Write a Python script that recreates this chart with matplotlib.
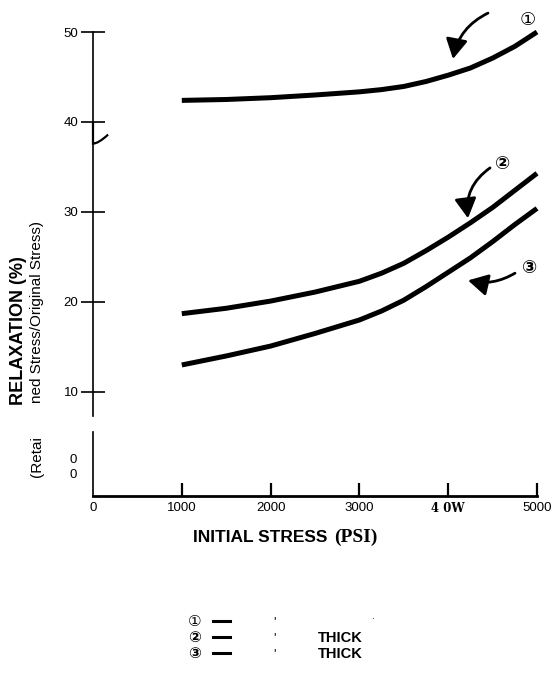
import matplotlib
matplotlib.use("Agg")
import matplotlib.pyplot as plt
from matplotlib.path import Path
from matplotlib.patches import PathPatch
from matplotlib.lines import Line2D

plt.rcParams["font.family"] = ["Liberation Sans", "DejaVu Sans"]

# data
stress = [1000, 1500, 2000, 2500, 3000, 3250, 3500, 3750, 4000, 4250, 4500, 4750, 5000]
curve1 = [42.4, 42.5, 42.7, 43.0, 43.35, 43.6, 43.95, 44.5, 45.2, 46.0, 47.1, 48.4, 50.0]
curve2 = [18.7, 19.3, 20.1, 21.1, 22.3, 23.2, 24.3, 25.7, 27.2, 28.8, 30.5, 32.4, 34.3]
curve3 = [13.0, 14.0, 15.1, 16.5, 18.0, 19.0, 20.2, 21.7, 23.3, 24.9, 26.7, 28.6, 30.4]
xticks = [0, 1000, 2000, 3000, 4000, 5000]
xticklabels = ["0", "1000", "2000", "3000", "4 0W", "5000"]
yticks = [10, 20, 30, 40, 50]

W, H = 555, 674
fig = plt.figure(figsize=(W / 100, H / 100), dpi=100)
fig.patch.set_facecolor("white")

# axes placed so 0..5000 psi -> px 93..537, -1.56..50 % -> px 496..32
ax = fig.add_axes([93 / W, (H - 496) / H, 444 / W, 464 / H])
ax.set_xlim(0, 5000)
ax.set_ylim(-1.56, 50)
for s in ["top", "right", "left"]:
    ax.spines[s].set_visible(False)
ax.spines["bottom"].set_linewidth(2)

for ys in (curve1, curve2, curve3):
    ax.plot(stress, ys, color="black", lw=3.6, solid_capstyle="butt",
            solid_joinstyle="round", clip_on=False)

# broken y axis line + hook at 40
ax.plot([0, 0], [50, 7.3], color="black", lw=1.2, clip_on=False)
ax.plot([0, 0], [5.6, -1.56], color="black", lw=1.2, clip_on=False)
hook = Path([(0, 40), (0, 37.6), (60, 37.6), (170, 38.6)],
            [Path.MOVETO, Path.LINETO, Path.CURVE3, Path.CURVE3])
ax.add_patch(PathPatch(hook, fill=False, lw=1.6, color="black", clip_on=False))

ax.set_yticks(yticks)
ax.set_yticklabels([str(v) for v in yticks], fontsize=9.5)
ax.tick_params(axis="y", direction="inout", length=17, width=1.2, pad=2)
ax.set_xticks(xticks)
ax.set_xticklabels(xticklabels, fontsize=9.5)
ax.get_xticklabels()[4].set_family("DejaVu Serif")
ax.get_xticklabels()[4].set_fontsize(8.5)
ax.get_xticklabels()[4].set_weight("bold")
ax.tick_params(axis="x", direction="in", length=9.5, width=1.6, pad=4)
ax.xaxis.get_major_ticks()[0].tick1line.set_visible(False)

# odd "0 0" labels at the bottom of the y axis
ax.text(-225, 2.4, "0", fontsize=9.5, ha="center", va="center", clip_on=False)
ax.text(-225, 0.8, "0", fontsize=9.5, ha="center", va="center", clip_on=False)

# curve callouts
arrow_kw = dict(arrowstyle="-|>,head_length=1.0,head_width=0.55", color="black",
                lw=2, mutation_scale=12, shrinkA=0, shrinkB=0)
ax.annotate("", xy=(4054, 47.0), xytext=(4448, 52.1),
            arrowprops=dict(connectionstyle="arc3,rad=0.25", **arrow_kw), annotation_clip=False)
ax.annotate("", xy=(4223, 29.3), xytext=(4471, 34.9),
            arrowprops=dict(connectionstyle="arc3,rad=0.3", **arrow_kw), annotation_clip=False)
ax.annotate("", xy=(4223, 22.4), xytext=(4752, 23.2),
            arrowprops=dict(connectionstyle="arc3,rad=-0.2", **arrow_kw), annotation_clip=False)
circ = dict(fontsize=13, ha="center", va="center", family="DejaVu Sans", clip_on=False)
ax.text(4899, 51.3, "\u2460", **circ)
ax.text(4617, 35.3, "\u2461", fontweight="bold", **circ)
ax.text(4921, 23.8, "\u2462", fontweight="bold", **circ)

# axis titles
fig.text(193 / W, 1 - 537 / H, "INITIAL STRESS", fontsize=12.5, fontweight="bold",
         ha="left", va="center")
fig.text(334 / W, 1 - 537 / H, "(PSI)", fontsize=14, fontweight="bold",
         family="Liberation Serif", ha="left", va="center")
fig.text(19 / W, 1 - 331 / H, "RELAXATION (%)", fontsize=13, fontweight="bold",
         rotation=90, ha="center", va="center")
fig.text(37 / W, 1 - 312 / H, "ned Stress/Original Stress)", fontsize=11,
         rotation=90, ha="center", va="center")
fig.text(37 / W, 1 - 457 / H, "(Retai", fontsize=11,
         rotation=90, ha="center", va="center")

# key at the bottom
rows = [622, 638, 654]
nums = ["\u2460", "\u2461", "\u2462"]
for i, (py, n) in enumerate(zip(rows, nums)):
    fig.text(195 / W, 1 - py / H, n, fontsize=11, ha="center", va="center",
             family="DejaVu Sans", fontweight="normal" if i == 0 else "bold")
    yf = 1 - (py - 1) / H
    fig.add_artist(Line2D([213 / W, 230 / W], [yf, yf], color="black", lw=2.2))
    fig.text(275 / W, 1 - py / H, "'", fontsize=9, ha="center", va="center")
    if i > 0:
        fig.text(318 / W, 1 - py / H, "THICK", fontsize=10.5, fontweight="bold",
                 ha="left", va="center")
fig.text(372 / W, 1 - 616 / H, ".", fontsize=7, ha="center", va="center")

fig.savefig("out.png", dpi=100, facecolor="white")
